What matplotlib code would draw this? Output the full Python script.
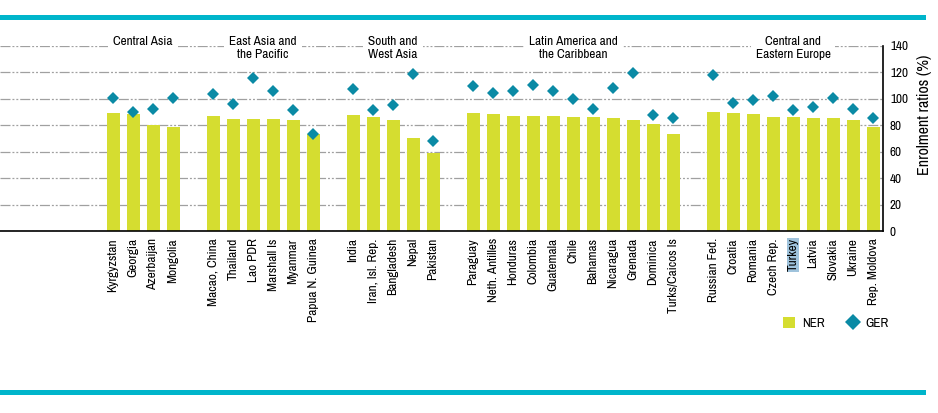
#!/usr/bin/env python3
import numpy as np
import matplotlib
matplotlib.use("Agg")
import matplotlib.pyplot as plt
from matplotlib.patches import Rectangle, Patch
from matplotlib.lines import Line2D

plt.rcParams['font.family'] = ['Archivo Narrow', 'DejaVu Sans']
plt.rcParams['lines.scale_dashes'] = False

# regions and the countries in them
regions = ["Central Asia", "East Asia and\nthe Pacific", "South and\nWest Asia",
           "Latin America and\nthe Caribbean", "Central and\nEastern Europe"]

countries = [
    ["Kyrgyzstan", "Georgia", "Azerbaijan", "Mongolia"],
    ["Macao, China", "Thailand", "Lao PDR", "Marshall Is", "Myanmar", "Papua N. Guinea"],
    ["India", "Iran, Isl. Rep.", "Bangladesh", "Nepal", "Pakistan"],
    ["Paraguay", "Neth. Antilles", "Honduras", "Colombia", "Guatemala", "Chile",
     "Bahamas", "Nicaragua", "Grenada", "Dominica", "Turks/Caicos Is"],
    ["Russian Fed.", "Croatia", "Romania", "Czech Rep.", "Turkey", "Latvia",
     "Slovakia", "Ukraine", "Rep. Moldova"],
]

ner = [
    [89.2, 88.4, 80.2, 78.6],
    [86.9, 84.7, 84.7, 84.7, 83.9, 73.1],
    [87.7, 86.2, 83.9, 70.4, 59.0],
    [89.2, 88.4, 86.9, 86.9, 86.9, 86.2, 86.2, 85.4, 83.9, 80.9, 73.4],
    [90.0, 89.2, 88.4, 86.2, 86.2, 85.4, 85.4, 83.9, 78.6],
]

ger = [
    [100.5, 90.2, 92.0, 100.5],
    [103.8, 96.0, 116.0, 106.0, 91.5, 73.1],
    [107.0, 91.5, 95.5, 119.0, 68.3],
    [109.8, 104.0, 105.5, 110.3, 106.0, 99.7, 92.2, 108.3, 119.3, 87.9, 85.4],
    [118.1, 96.5, 98.7, 102.0, 91.5, 93.7, 100.5, 92.5, 85.7],
]

bar_col = '#d5dd30'
dia_col = '#0a8aa5'
cyan = '#00b5cb'

fig = plt.figure(figsize=(9.38, 4.13), dpi=100)
ax = fig.add_axes([0, 1 - 231.3 / 413, 883 / 938, 185.6 / 413])

# x positions: one empty slot between regions
xs, labels, ner_all, ger_all, centres = [], [], [], [], []
pos = 0
for reg, cs, n, g in zip(regions, countries, ner, ger):
    grp = list(range(pos, pos + len(cs)))
    xs += grp
    labels += cs
    ner_all += n
    ger_all += g
    centres.append((grp[0] + grp[-1]) / 2)
    pos += len(cs) + 1

ax.bar(xs, ner_all, width=0.65, color=bar_col, zorder=2)
ax.plot(xs, ger_all, 'D', color=dia_col, markersize=6.5, markeredgewidth=0, zorder=3)

ax.set_xlim(-5.65, 38.5)
ax.set_ylim(0, 140)
ax.set_yticks(np.arange(0, 141, 20))
ax.yaxis.tick_right()
ax.tick_params(axis='y', length=0, pad=5, labelsize=9.5)
ax.set_xticks(xs)
ax.set_xticklabels(labels, rotation=90, fontsize=9.5, va='top')
ax.tick_params(axis='x', length=0, pad=5)

for t in ax.get_xticklabels():
    if t.get_text() == "Turkey":
        t.set_bbox(dict(facecolor='#9fc3dc', edgecolor='none', pad=0.5))

ax.yaxis.grid(True, color='#a0a0a0', lw=0.9,
              linestyle=(0, (7.2, 1.4, 1.4, 1.4, 1.4, 1.4)), zorder=1)
for s in ['left', 'top']:
    ax.spines[s].set_visible(False)
ax.spines['right'].set_linewidth(1.2)
ax.spines['bottom'].set_linewidth(1.2)

for c, reg in zip(centres, regions):
    ax.text(c, 147.4, reg, ha='center', va='top', fontsize=9.5, linespacing=1.25,
            clip_on=False, zorder=4,
            bbox=dict(facecolor='white', edgecolor='none', pad=3.5))

fig.text(924 / 938, 1 - 115 / 413, "Enrolment ratios (%)", rotation=90,
         ha='center', va='center', fontsize=11.5)

handles = [Patch(facecolor=bar_col, edgecolor='none'),
           Line2D([], [], marker='D', color=dia_col, linestyle='none',
                  markersize=8, markeredgewidth=0)]
ax.legend(handles, ["NER", "GER"], ncol=2, frameon=False, loc='center',
          bbox_to_anchor=(836 / 938, 1 - 323 / 413), bbox_transform=fig.transFigure,
          fontsize=9.5, handlelength=0.9, handleheight=0.9, handletextpad=0.5,
          columnspacing=1.7, borderpad=0, borderaxespad=0)

# cyan bands top and bottom
fig.add_artist(Rectangle((0, 1 - 19.5 / 413), 926 / 938, 4.5 / 413,
                         transform=fig.transFigure, color=cyan, lw=0))
fig.add_artist(Rectangle((0, 1 - 395 / 413), 926 / 938, 5 / 413,
                         transform=fig.transFigure, color=cyan, lw=0))

fig.savefig("out.png", dpi=100)
